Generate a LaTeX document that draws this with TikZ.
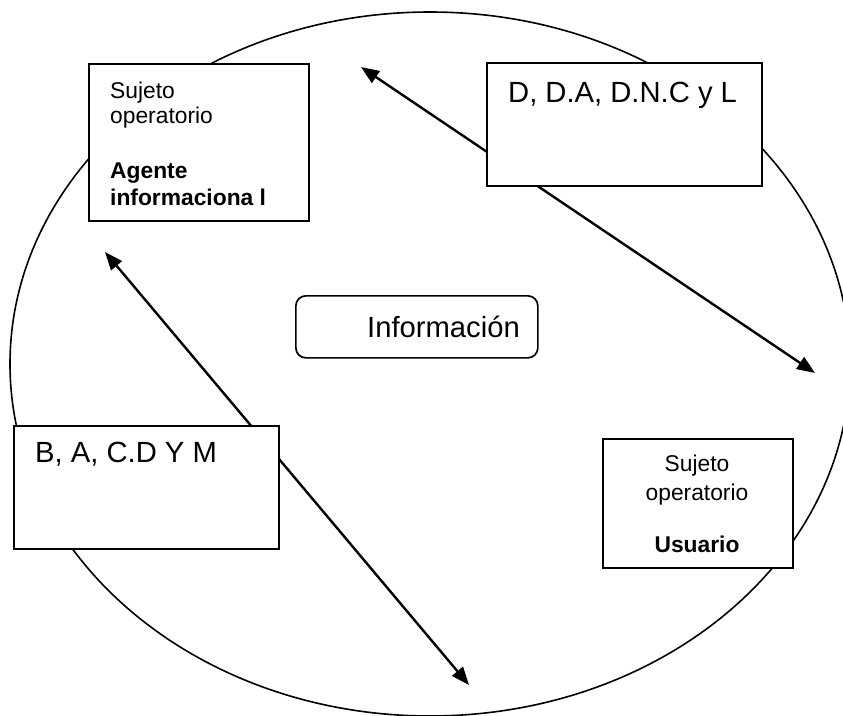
\documentclass[tikz,border=0pt]{standalone}
\usepackage{fontspec}
\setmainfont{Liberation Sans}
\usetikzlibrary{arrows.meta}
\begin{document}
\begin{tikzpicture}[x=1pt,y=-1pt,
  box/.style={draw,fill=white,line width=1.7pt,inner sep=0pt,anchor=north west},
  conn/.style={line width=2.4pt,{Triangle[length=18pt,width=14pt]}-{Triangle[length=18pt,width=14pt]}},
  smalltxt/.style={font=\fontsize{22.8}{26}\selectfont,inner sep=0pt},
  bigtxt/.style={font=\fontsize{29.2}{34}\selectfont,inner sep=0pt}]
\clip (0,0) rectangle (843,715);
\useasboundingbox (0,0) rectangle (843,715);
% outer ellipse
\draw[line width=1.6pt] (430,364) ellipse [x radius=420, y radius=352];
% connector end points
\coordinate (a1) at (361,67);
\coordinate (a2) at (815,373);
\coordinate (b1) at (105,252);
\coordinate (b2) at (469,685);
\draw[conn] (a1) -- (a2);
\draw[conn] (b1) -- (b2);
% boxes
\node[box, minimum width=220, minimum height=157] (agente) at (88,63) {};
\node[box, minimum width=275, minimum height=123] (dda) at (486,62) {};
\node[box, rounded corners=10pt, minimum width=242, minimum height=62] (info) at (295,295) {};
\node[box, minimum width=265, minimum height=123] (bac) at (13,425) {};
\node[box, minimum width=190, minimum height=129] (usuario) at (602,438) {};
% texts
\node[smalltxt, anchor=base west] (t1) at (110,98) {Sujeto};
\node[smalltxt, anchor=base west] (t2) at (110,123) {operatorio};
\node[smalltxt, anchor=base west] (t3) at (110,178) {\bfseries Agente};
\node[smalltxt, anchor=base west] (t4) at (110,205) {\bfseries informaciona l};
\node[bigtxt, anchor=base west] (t5) at (508,102) {D, D.A, D.N.C y L};
\node[bigtxt, anchor=base west] (t6) at (367,337) {Información};
\node[bigtxt, anchor=base west] (t7) at (35,462) {B, A, C.D Y M};
\node[smalltxt, anchor=base] (t8) at (697,471) {Sujeto};
\node[smalltxt, anchor=base] (t9) at (697,500) {operatorio};
\node[smalltxt, anchor=base] (t10) at (697,552) {\bfseries Usuario};
\end{tikzpicture}
\end{document}
